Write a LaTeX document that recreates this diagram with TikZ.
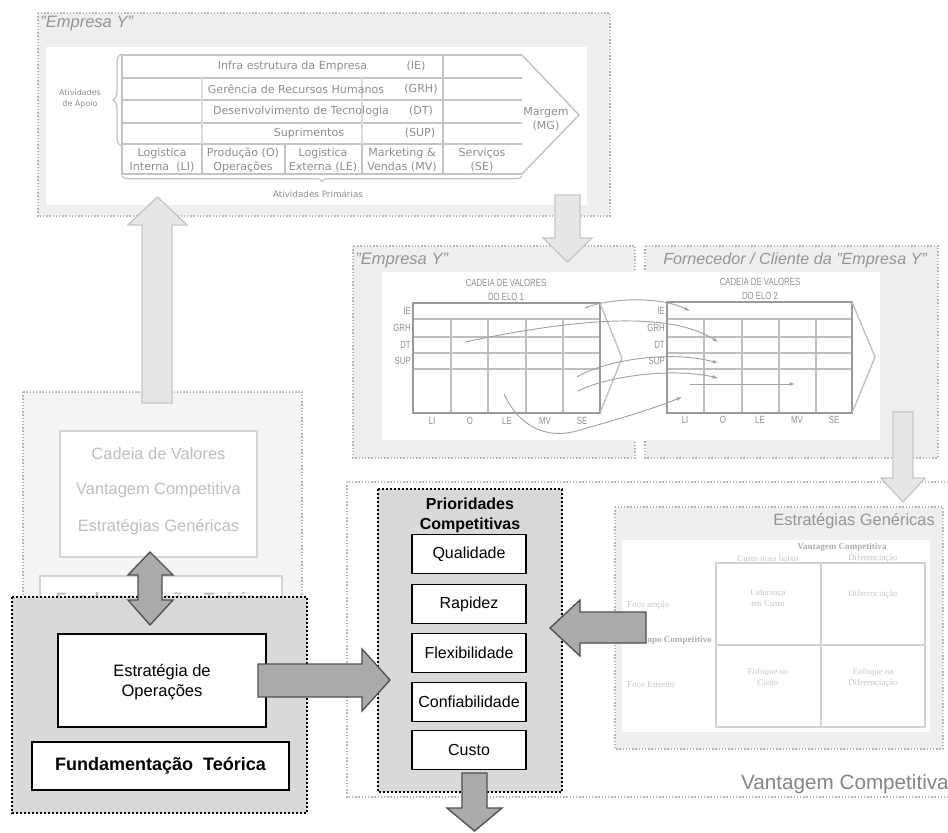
\documentclass[tikz,border=0pt]{standalone}
\usepackage{fontspec}
\setmainfont{Liberation Sans}
\newfontfamily\chainfont{DejaVu Sans}
\newfontfamily\narrowfont[FakeStretch=0.75]{Liberation Sans}
\newfontfamily\gridfont{Liberation Serif}
\usetikzlibrary{arrows.meta,decorations.pathreplacing}

\definecolor{panelfill}{HTML}{EFEFEE}
\definecolor{dotline}{HTML}{B6B6B6}
\definecolor{darkfill}{HTML}{D9D9D9}
\definecolor{chaintext}{HTML}{8E8E8E}
\definecolor{chainrule}{HTML}{C4C4C4}
\definecolor{softtext}{HTML}{BEBEBE}
\definecolor{titletext}{HTML}{959595}
\definecolor{lightarrow}{HTML}{E7E7E5}
\definecolor{lightarrowedge}{HTML}{C6C6C6}
\definecolor{darkarrow}{HTML}{ABABAB}
\definecolor{darkarrowedge}{HTML}{4F4F4F}
\definecolor{linkline}{HTML}{A2A2A2}
\definecolor{gridtext}{HTML}{C6C6C6}
\definecolor{gridhead}{HTML}{AEAEAE}
\definecolor{gridrule}{HTML}{D2D2D2}

\tikzset{
  softpanel/.style={draw=dotline, line width=1.1pt, dash pattern=on 1.1pt off 1.3pt, fill=panelfill},
  boldpanel/.style={draw=black, line width=1.6pt, dash pattern=on 1.6pt off 1.4pt, fill=darkfill},
  whitebox/.style={draw=black, line width=0.9pt, fill=white, align=center, inner sep=0pt},
  fadedbox/.style={draw=black!17, line width=0.8pt, fill=white, inner sep=0pt},
  lightblock/.style={draw=lightarrowedge, line width=1pt, fill=lightarrow, line join=miter},
  darkblock/.style={draw=darkarrowedge, line width=1pt, fill=darkarrow, line join=miter},
  chainlbl/.style={font=\chainfont\fontsize{8.3}{10.5}\selectfont, text=chaintext, align=center, inner sep=0pt},
  chainsmall/.style={font=\chainfont\fontsize{6}{8.2}\selectfont, text=chaintext, align=center, inner sep=0pt},
  chainrulestyle/.style={draw=chainrule, line width=1.1pt},
  paneltitle/.style={font=\itshape\fontsize{12.4}{14}\selectfont, text=titletext, inner sep=0pt},
  linklbl/.style={font=\narrowfont\fontsize{7.8}{11}\selectfont, text=chaintext, align=center, inner sep=0pt},
  linkframe/.style={draw=black!40, line width=1.1pt},
  linkrule/.style={draw=black!25, line width=0.8pt},
  linkarrow/.style={draw=linkline, line width=0.7pt, -{Latex[length=4pt,width=3pt]}},
  gridlbl/.style={font=\gridfont\fontsize{6.6}{8.4}\selectfont, text=gridtext, align=center, inner sep=0pt},
  gridbold/.style={font=\gridfont\bfseries\fontsize{6.8}{8.4}\selectfont, text=gridhead, align=center, inner sep=0pt},
  softlbl/.style={font=\fontsize{12.3}{14}\selectfont, text=softtext, inner sep=0pt},
  prio/.style={whitebox, minimum width=85.5pt, minimum height=29.25pt, font=\fontsize{12}{14}\selectfont},
}

\begin{document}
\begin{tikzpicture}[x=0.75pt,y=-0.75pt]
\clip (0,0) rectangle (948,832);
\fill[white] (0,0) rectangle (948,832);

% ---------- large frame: Vantagem Competitiva ----------
\draw[draw=dotline, line width=1.1pt, dash pattern=on 1.1pt off 1.3pt, fill=white]
  (347,482) rectangle (960,797);
\node[anchor=east, font=\fontsize{15.5}{18}\selectfont, text=black!48, inner sep=0pt]
  (vantagem) at (949,784) {Vantagem Competitiva};

% ---------- top panel: value chain of "Empresa Y" ----------
\draw[softpanel] (38,13) rectangle (610,216);
\fill[white] (46,47) rectangle (587,205);
\node[paneltitle, anchor=west] (topTitle) at (40,24) {"Empresa Y"};

% rows and outline of the chain
\foreach \yy in {78,100,123,144} \draw[chainrulestyle] (122,\yy) -- (522,\yy);
\draw[chainrulestyle] (522,55) -- (122,55) -- (122,174) -- (522,174);
\draw[chainrulestyle] (522,55) -- (579,115) -- (522,174);
\foreach \xx in {202,285,362} \draw[chainrulestyle] (\xx,144) -- (\xx,174);
\draw[chainrulestyle] (443,55) -- (443,174);
\draw[draw=chainrule!60, line width=0.8pt] (202,78) -- (202,144);
\draw[draw=chainrule!60, line width=0.8pt] (362,78) -- (362,144);

% braces
\draw[draw=chainrule, line width=0.9pt, decorate, decoration={brace, amplitude=6pt}]
  (121,146) -- (121,54);
\draw[draw=chainrule, line width=0.9pt, decorate, decoration={brace, amplitude=4pt}]
  (522,176) -- (122,176);

% support activities
\node[chainlbl] (ie)  at (292.5,66.5) {Infra estrutura da Empresa};
\node[chainlbl] (ieT) at (416,66.5) {(IE)};
\node[chainlbl] (grh)  at (296,89) {Gerência de Recursos Humanos};
\node[chainlbl] (grhT) at (421,89) {(GRH)};
\node[chainlbl] (dt)  at (301,111.5) {Desenvolvimento de Tecnologia};
\node[chainlbl] (dtT) at (421,111.5) {(DT)};
\node[chainlbl] (sup)  at (309,133.5) {Suprimentos};
\node[chainlbl] (supT) at (420,133.5) {(SUP)};

% primary activities
\node[chainlbl] (li) at (162,160) {Logistica\\Interna\ \ (LI)};
\node[chainlbl] (op) at (243,160) {Produção (O)\\Operações};
\node[chainlbl] (le) at (323,160) {Logistica\\Externa (LE)};
\node[chainlbl] (mv) at (402,160) {Marketing \&\\Vendas (MV)};
\node[chainlbl] (se) at (482,160) {Serviços\\(SE)};
\node[chainlbl] (mg) at (546,119) {Margem\\(MG)};
\node[chainsmall] (apoio) at (80,99) {Atividades\\de Apoio};
\node[chainsmall, font=\chainfont\fontsize{6.6}{8}\selectfont] (primarias) at (318,194) {Atividades Primárias};

% ---------- linkage panels ----------
\draw[softpanel] (353,246) rectangle (635,458);
\draw[softpanel] (645,246) rectangle (938,458);
\fill[white] (382,272) rectangle (880,440);
\node[paneltitle, anchor=west] (linkTitleA) at (355,261) {"Empresa Y"};
\node[paneltitle, anchor=west, font=\itshape\fontsize{12.1}{14}\selectfont] (linkTitleB) at (663,260) {Fornecedor / Cliente da "Empresa Y"};

% chain of link 1
\node[linklbl] (elo1) at (506,290) {CADEIA DE VALORES\\DO ELO 1};
\foreach \yy in {319,337,353,369} \draw[linkrule] (413,\yy) -- (600,\yy);
\foreach \xx in {451,488,526,563} \draw[linkrule] (\xx,319) -- (\xx,413);
\draw[linkframe] (413,303) rectangle (600,413);
\draw[linkrule, line width=1pt] (600,303) -- (622,358) -- (600,413);
\node[linklbl, anchor=east] (a1) at (411,311) {IE};
\node[linklbl, anchor=east] (a2) at (411,328) {GRH};
\node[linklbl, anchor=east] (a3) at (411,345) {DT};
\node[linklbl, anchor=east] (a4) at (411,361) {SUP};
\node[linklbl] (b1) at (432,421) {LI};
\node[linklbl] (b2) at (470,421) {O};
\node[linklbl] (b3) at (507,421) {LE};
\node[linklbl] (b4) at (545,421) {MV};
\node[linklbl] (b5) at (582,421) {SE};

% chain of link 2
\node[linklbl] (elo2) at (760,289) {CADEIA DE VALORES\\DO ELO 2};
\foreach \yy in {319,337,353,369} \draw[linkrule] (667,\yy) -- (852,\yy);
\foreach \xx in {704,742,779,816} \draw[linkrule] (\xx,319) -- (\xx,413);
\draw[linkframe] (667,302) rectangle (852,413);
\draw[linkrule, line width=1pt] (852,302) -- (875,357) -- (852,413);
\node[linklbl, anchor=east] (c1) at (665,311) {IE};
\node[linklbl, anchor=east] (c2) at (665,328) {GRH};
\node[linklbl, anchor=east] (c3) at (665,345) {DT};
\node[linklbl, anchor=east] (c4) at (665,361) {SUP};
\node[linklbl] (d1) at (685,420) {LI};
\node[linklbl] (d2) at (723,420) {O};
\node[linklbl] (d3) at (760,420) {LE};
\node[linklbl] (d4) at (797,420) {MV};
\node[linklbl] (d5) at (834,420) {SE};

% links between the two chains
\coordinate (s1) at (585,308); \coordinate (t1) at (690,311);
\coordinate (s2) at (465,342); \coordinate (t2) at (718,342);
\coordinate (s3) at (577,377); \coordinate (t3) at (718,363);
\coordinate (s4) at (578,391); \coordinate (t4) at (718,378);
\coordinate (s5) at (504,394); \coordinate (m5) at (580,430); \coordinate (t5) at (682,397);
\coordinate (s6) at (690,384); \coordinate (t6) at (795,384);
\draw[linkarrow] (s1) .. controls (608,298) and (660,296) .. (t1);
\draw[linkarrow] (s2) .. controls (560,322) and (665,308) .. (t2);
\draw[linkarrow] (s3) .. controls (605,360) and (670,350) .. (t3);
\draw[linkarrow] (s4) .. controls (605,377) and (670,367) .. (t4);
\draw[draw=linkline, line width=0.7pt] (s5) .. controls (520,428) and (548,440) .. (m5);
\draw[linkarrow] (m5) .. controls (615,420) and (650,410) .. (t5);
\draw[linkarrow] (s6) -- (t6);

% ---------- generic strategies panel ----------
\draw[softpanel] (615,507) rectangle (943,749);
\fill[white] (622,540) rectangle (930,732);
\node[anchor=east, font=\fontsize{12.3}{14}\selectfont, text=titletext, inner sep=0pt]
  (genTitle) at (935,521) {Estratégias Genéricas};
\draw[draw=gridrule, line width=0.8pt] (716,563) rectangle (925,727);
\draw[draw=gridrule, line width=0.8pt] (821,563) -- (821,727);
\draw[draw=gridrule, line width=0.8pt] (716,645) -- (925,645);
\node[gridbold] (gVant) at (842,547) {Vantagem Competitiva};
\node[gridlbl] (gLow) at (768,558) {Custo mais baixo};
\node[gridlbl] (gDif) at (873,558) {Diferenciação};
\node[gridlbl] (q1) at (768,598) {Liderança\\em Custo};
\node[gridlbl] (q2) at (873,594) {Diferenciação};
\node[gridlbl] (q3) at (768,677) {Enfoque no\\Custo};
\node[gridlbl] (q4) at (873,678) {Enfoque na\\Diferenciação};
\node[gridlbl, anchor=west] (gWide) at (627,605) {Foco amplo};
\node[gridbold, anchor=east] (gScope) at (712,640) {Escopo Competitivo};
\node[gridlbl, anchor=west] (gNarrow) at (627,685) {Foco Estreito};

% ---------- left panel: theory ----------
\draw[softpanel, fill=black!4] (23,392) rectangle (302,805);
\node[fadedbox, minimum width=147.75pt, minimum height=94.5pt] (cadeiaBox) at (158.5,494) {};
\node[softlbl] (cv1) at (158.5,454) {Cadeia de Valores};
\node[softlbl] (cv2) at (158.5,490) {Vantagem Competitiva};
\node[softlbl] (cv3) at (158.5,527) {Estratégias Genéricas};
\node[fadedbox, minimum width=181.5pt, minimum height=63pt] (fundFaded) at (161,618) {};
\node[font=\bfseries\fontsize{13.5}{16}\selectfont, text=softtext, inner sep=0pt]
  (fundFadedTxt) at (161,601) {Fundamentação\ \ Teórica};

% dark panel with operations strategy
\draw[boldpanel] (12,597) rectangle (307,813);
\node[whitebox, minimum width=156pt, minimum height=69.75pt] (estrBox) at (162,680.5) {};
\node[font=\fontsize{12.4}{15}\selectfont, align=center, inner sep=0pt] (estrTxt) at (162,682) {Estratégia de\\Operações};
\node[whitebox, minimum width=192.75pt, minimum height=36pt, font=\bfseries\fontsize{13.5}{16}\selectfont]
  (fundBox) at (160.5,766) {Fundamentação\ \ Teórica};

% ---------- competitive priorities ----------
\draw[boldpanel] (378,489) rectangle (562,792);
\node[font=\bfseries\fontsize{12}{15}\selectfont, align=center, inner sep=0pt]
  (prioTitle) at (470,515) {Prioridades\\Competitivas};
\node[prio] (qual) at (469,554) {Qualidade};
\node[prio] (rap)  at (469,604) {Rapidez};
\node[prio] (flex) at (469,653) {Flexibilidade};
\node[prio] (conf) at (469,702) {Confiabilidade};
\node[prio] (cust) at (469,750) {Custo};

% ---------- block arrows ----------
% theory up to the value chain
\draw[lightblock] (142,403) -- (142,225) -- (128,225) -- (157.5,197) -- (187,225) -- (172,225) -- (172,403) -- cycle;
% value chain down to the linkage panel
\draw[lightblock] (555,195) -- (555,238) -- (543,238) -- (567.5,262) -- (592,238) -- (580,238) -- (580,195) -- cycle;
% linkage panel down to the generic strategies
\draw[lightblock] (893,412) -- (893,478) -- (881,478) -- (903,502) -- (925,478) -- (913,478) -- (913,412) -- cycle;
% two-way arrow between theory boxes
\draw[darkblock] (150,552) -- (173,575) -- (162,575) -- (162,600) -- (173,600) -- (150,625) -- (128,600) -- (138,600) -- (138,575) -- (128,575) -- cycle;
% operations strategy to priorities
\draw[darkblock] (258,664) -- (362,664) -- (362,649) -- (390,680) -- (362,711) -- (362,697) -- (258,697) -- cycle;
% generic strategies to priorities
\draw[darkblock] (646,612) -- (580,612) -- (580,600) -- (550,628) -- (580,656) -- (580,643) -- (646,643) -- cycle;
% priorities downwards
\draw[darkblock] (462,773) -- (462,808) -- (447,808) -- (474.5,831) -- (502,808) -- (487,808) -- (487,773) -- cycle;
\end{tikzpicture}
\end{document}
